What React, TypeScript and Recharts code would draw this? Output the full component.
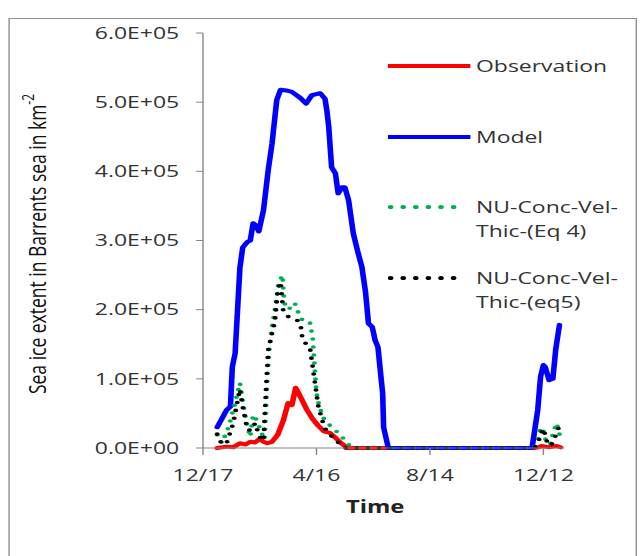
import { LineChart, Line, XAxis, YAxis } from "recharts";

const xTicks = [0, 120, 240, 360];
const xTickLabels = ["12/17", "4/16", "8/14", "12/12"];
const yTicks = [0, 100000, 200000, 300000, 400000, 500000, 600000];
const yTickLabels = ["0.0E+00", "1.0E+05", "2.0E+05", "3.0E+05", "4.0E+05", "5.0E+05", "6.0E+05"];

// day 0 = 12/17
const obsDays = [15, 25, 32, 39, 45, 50, 55, 60, 64, 68, 73, 79, 85, 90, 94, 98, 103, 110, 116, 122, 128, 134, 140, 146, 153, 350, 355, 358, 362, 366, 370, 374, 378];
const obsVals = [0, 2000, 1000, 7000, 5000, 9000, 8000, 13000, 9000, 7000, 9000, 19000, 40000, 65000, 62000, 87000, 74000, 55000, 42000, 32000, 24000, 22000, 15000, 7000, 0, 0, 1000, 3000, 2000, 1000, 2000, 3000, 1000];

const modelDays = [15, 25, 29, 31, 34, 39, 42, 47, 50, 53, 56, 59, 64, 69, 73, 78, 82, 88, 94, 103, 109, 115, 124, 129, 131, 133, 136, 140, 143, 147, 150, 154, 159, 164, 168, 172, 175, 179, 182, 185, 190, 191, 196, 348, 354, 357, 360, 362, 366, 370, 373, 377];
const modelVals = [30000, 55000, 60000, 117000, 137000, 260000, 290000, 298000, 300000, 325000, 322000, 313000, 344000, 402000, 440000, 503000, 518000, 517000, 515000, 506000, 498000, 510000, 513000, 505000, 488000, 464000, 406000, 397000, 368000, 377000, 377000, 358000, 310000, 282000, 262000, 224000, 180000, 175000, 156000, 146000, 79000, 30000, 0, 0, 55000, 103000, 120000, 117000, 98000, 100000, 142000, 178000];

const eq4Days = [15, 20, 27, 33, 39, 43, 47, 50, 53, 57, 61, 65, 68, 70, 73, 76, 80, 84, 86, 90, 94, 97, 101, 105, 108, 113, 116, 118, 120, 123, 128, 134, 140, 145, 150, 157, 350, 354, 357, 360, 363, 367, 371, 374, 377];
const eq4Vals = [19000, 7000, 30000, 60000, 94000, 60000, 30000, 16000, 48000, 40000, 25000, 12000, 100000, 140000, 175000, 200000, 238000, 250000, 210000, 200000, 205000, 210000, 195000, 185000, 182000, 182000, 160000, 120000, 80000, 60000, 42000, 33000, 26000, 18000, 12000, 0, 0, 10000, 30000, 25000, 8000, 5000, 25000, 36000, 20000];

const eq5Days = [15, 20, 25, 32, 39, 42, 47, 52, 55, 60, 64, 67, 69, 73, 76, 79, 82, 85, 90, 97, 103, 105, 108, 113, 115, 118, 122, 127, 131, 137, 143, 150, 350, 354, 357, 360, 364, 368, 372, 376, 378];
const eq5Vals = [20000, 5000, 7000, 36000, 85000, 60000, 26000, 26000, 36000, 16000, 10000, 94000, 142000, 166000, 182000, 228000, 240000, 197000, 190000, 188000, 180000, 160000, 152000, 146000, 127000, 98000, 60000, 36000, 23000, 16000, 8000, 0, 0, 5000, 20000, 28000, 8000, 3000, 15000, 29000, 30000];

const toRows = (days: number[], vals: number[]) => days.map((d, i) => ({ day: d, v: vals[i] }));

const series = [
  { name: "Observation", color: "#ff0000", dotted: false, data: toRows(obsDays, obsVals) },
  { name: "Model", color: "#0000ff", dotted: false, data: toRows(modelDays, modelVals) },
  { name: "NU-Conc-Vel-Thic-(Eq 4)", color: "#00b050", dotted: true, data: toRows(eq4Days, eq4Vals) },
  { name: "NU-Conc-Vel-Thic-(eq5)", color: "#000000", dotted: true, data: toRows(eq5Days, eq5Vals) },
];

const FONT = "'Open Sans', sans-serif";
const TEXT = "#333";
const AXIS = "#868686";
// the reference picture is stretched sideways, so the whole chart is drawn narrow and scaled
const STRETCH = 1.4;
const W = 458;
const H = 556;

const renderYTitle = () => (
  <text
    transform="translate(26,244) rotate(-90)"
    textAnchor="middle"
    dominantBaseline="central"
    fill="#111"
    fontSize={17.5}
    fontFamily={FONT}
  >
    Sea ice extent in Barrents sea in km
    <tspan fontSize={12} dy={-7}>-2</tspan>
  </text>
);

const renderXTitle = (props: any) => {
  const vb = props.viewBox;
  return (
    <text
      x={vb.x + vb.width / 2 - 6}
      y={vb.y + 65}
      textAnchor="middle"
      fill="#222"
      fontSize={17}
      fontWeight="bold"
      fontFamily={FONT}
    >
      Time
    </text>
  );
};

const legendCenters = [66, 137, 207, 278];

function LegendBox() {
  return (
    <>
      {series.map((s, i) => (
        <div key={s.name} style={{ position: "absolute", left: 277, top: legendCenters[i] - 12 }}>
          <svg width={60} height={24} style={{ position: "absolute", left: 0, top: 0 }}>
            <line
              x1={s.dotted ? 2 : 0}
              x2={s.dotted ? 56 : 59}
              y1={12}
              y2={12}
              stroke={s.color}
              strokeWidth={4}
              strokeLinecap={s.dotted ? "round" : "butt"}
              strokeDasharray={s.dotted ? "0 9" : undefined}
            />
          </svg>
          <div
            style={{
              position: "absolute",
              left: 63,
              top: 0,
              whiteSpace: "pre",
              fontFamily: FONT,
              fontSize: 16.4,
              lineHeight: "24px",
              color: TEXT,
            }}
          >
            {s.name.replace("Vel-", "Vel-\n")}
          </div>
        </div>
      ))}
    </>
  );
}

export default function App() {
  return (
    <div style={{ position: "absolute", left: 0, top: 0, width: 641, height: H, overflow: "hidden", background: "#fff" }}>
      <div
        style={{
          position: "absolute",
          left: 0,
          top: 0,
          width: W,
          height: H,
          transform: `scaleX(${STRETCH})`,
          transformOrigin: "0 0",
        }}
      >
        <div
          style={{
            position: "absolute",
            left: 9 / STRETCH,
            top: 18,
            width: 447,
            height: 600,
            border: "1px solid #8f8f8f",
          }}
        />
        <div style={{ position: "absolute", left: 0, top: 0 }}>
          <LineChart width={W} height={H} margin={{ top: 33, right: 55, bottom: 48, left: 0 }}>
            <XAxis
              type="number"
              dataKey="day"
              domain={[0, 382]}
              ticks={xTicks}
              tickFormatter={(v: number) => xTickLabels[xTicks.indexOf(v)]}
              allowDataOverflow
              stroke={AXIS}
              tickSize={7}
              tickMargin={14}
              height={60}
              tick={{ fill: TEXT, fontSize: 16.4, fontFamily: FONT }}
              label={{ content: renderXTitle }}
            />
            <YAxis
              type="number"
              domain={[0, 600000]}
              ticks={yTicks}
              tickFormatter={(v: number) => yTickLabels[yTicks.indexOf(v)]}
              stroke={AXIS}
              tickSize={5}
              tickMargin={12}
              width={145}
              tick={{ fill: TEXT, fontSize: 16.4, fontFamily: FONT }}
              label={{ content: renderYTitle }}
            />
            {series.map((s) => (
              <Line
                key={s.name}
                data={s.data}
                dataKey="v"
                name={s.name}
                type="linear"
                stroke={s.color}
                strokeWidth={s.dotted ? 3.6 : 4}
                strokeDasharray={s.dotted ? "0 8" : undefined}
                strokeLinecap="round"
                strokeLinejoin="round"
                dot={false}
                activeDot={false}
                isAnimationActive={false}
              />
            ))}
          </LineChart>
        </div>
        <LegendBox />
      </div>
    </div>
  );
}
